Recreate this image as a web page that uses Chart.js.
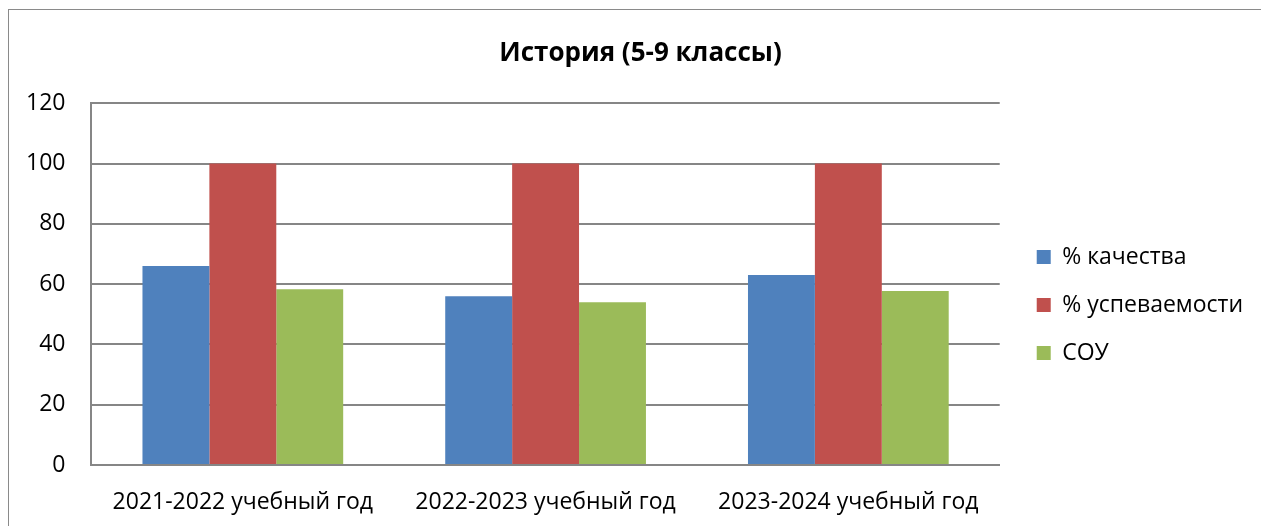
<!DOCTYPE html>
<html>
<head>
<meta charset="utf-8">
<script src="https://cdn.jsdelivr.net/npm/chart.js@4"></script>
<style>
  html, body { margin: 0; padding: 0; background: #fff; }
  #wrap { width: 1261px; height: 526px; }
</style>
</head>
<body>
<div id="wrap"><canvas id="historyChart" width="1261" height="526"></canvas></div>
<script>
var years = ['2021-2022 учебный год', '2022-2023 учебный год', '2023-2024 учебный год'];
var qualityValues = [66, 56, 63];
var successValues = [100, 100, 100];
var souValues = [58.3, 54, 57.7];
var yTicks = [0, 20, 40, 60, 80, 100, 120];

var seriesColors = ['#4f81bd', '#c0504d', '#9bbb59'];
var fontName = "'Open Sans', 'Noto Sans', sans-serif";
var legendGap = 12;  // extra space between plot and legend
var titleShift = 14; // title sits a bit right of the canvas centre

// outer frame like the office chart border
var framePlugin = {
    id: 'frame',
    beforeDraw: function(chart) {
        var ctx = chart.ctx;
        ctx.save();
        ctx.fillStyle = '#fff';
        ctx.fillRect(0, 0, chart.width, chart.height);
        ctx.strokeStyle = '#8a8a8a';
        ctx.lineWidth = 1;
        ctx.strokeRect(8.5, 9.5, 1270, 540);
        ctx.restore();
    }
};

// widen the legend box without moving its items, nudge the title
var layoutTweaks = {
    id: 'layoutTweaks',
    beforeLayout: function(chart) {
        var lg = chart.legend;
        if (lg && !lg._gapPatched) {
            var fit = lg.fit, draw = lg.draw;
            lg.fit = function() { fit.call(this); this.width += legendGap; };
            lg.draw = function() {
                this.left += legendGap;
                draw.call(this);
                this.left -= legendGap;
            };
            lg._gapPatched = true;
        }
        var tb = chart.titleBlock;
        if (tb && !tb._shiftPatched) {
            var tdraw = tb.draw;
            tb.draw = function() {
                this.ctx.save();
                this.ctx.translate(titleShift, 0);
                tdraw.call(this);
                this.ctx.restore();
            };
            tb._shiftPatched = true;
        }
    }
};

var historyCtx = document.getElementById('historyChart').getContext('2d');
var historyChart = new Chart(historyCtx, {
    type: 'bar',
    data: {
        labels: years,
        datasets: [{
            label: '% качества',
            data: qualityValues,
            backgroundColor: seriesColors[0]
        },
        {
            label: '% успеваемости',
            data: successValues,
            backgroundColor: seriesColors[1]
        },
        {
            label: 'СОУ',
            data: souValues,
            backgroundColor: seriesColors[2]
        }]
    },
    options: {
        responsive: false,
        animation: false,
        layout: {
            padding: { left: 0, right: 8, top: 38, bottom: -14 }
        },
        datasets: {
            bar: { categoryPercentage: 0.663, barPercentage: 1.0 }
        },
        plugins: {
            title: {
                display: true,
                text: 'История (5-9 классы)',
                color: '#000',
                font: { family: fontName, size: 26, weight: 'bold' },
                padding: { top: 0, bottom: 34 }
            },
            legend: {
                position: 'right',
                title: {
                    display: true,
                    text: ' ',
                    padding: 4,
                    font: { size: 20 }
                },
                labels: {
                    color: '#000',
                    font: { family: fontName, size: 23 },
                    boxWidth: 14,
                    boxHeight: 14,
                    padding: 25
                }
            },
            tooltip: { enabled: false }
        },
        scales: {
            x: {
                grid: { display: false, drawTicks: false },
                border: { color: '#868686', width: 2 },
                ticks: {
                    color: '#000',
                    font: { family: fontName, size: 23, lineHeight: 1.0 },
                    padding: 26
                }
            },
            y: {
                min: 0,
                max: 120,
                afterBuildTicks: function(axis) {
                    axis.ticks = yTicks.map(function(v) { return { value: v }; });
                },
                grid: { color: '#868686', lineWidth: 2, drawTicks: false },
                border: { color: '#868686', width: 2 },
                ticks: {
                    color: '#000',
                    font: { family: fontName, size: 23 },
                    padding: 26
                }
            }
        }
    },
    plugins: [framePlugin, layoutTweaks]
});
</script>
</body>
</html>
